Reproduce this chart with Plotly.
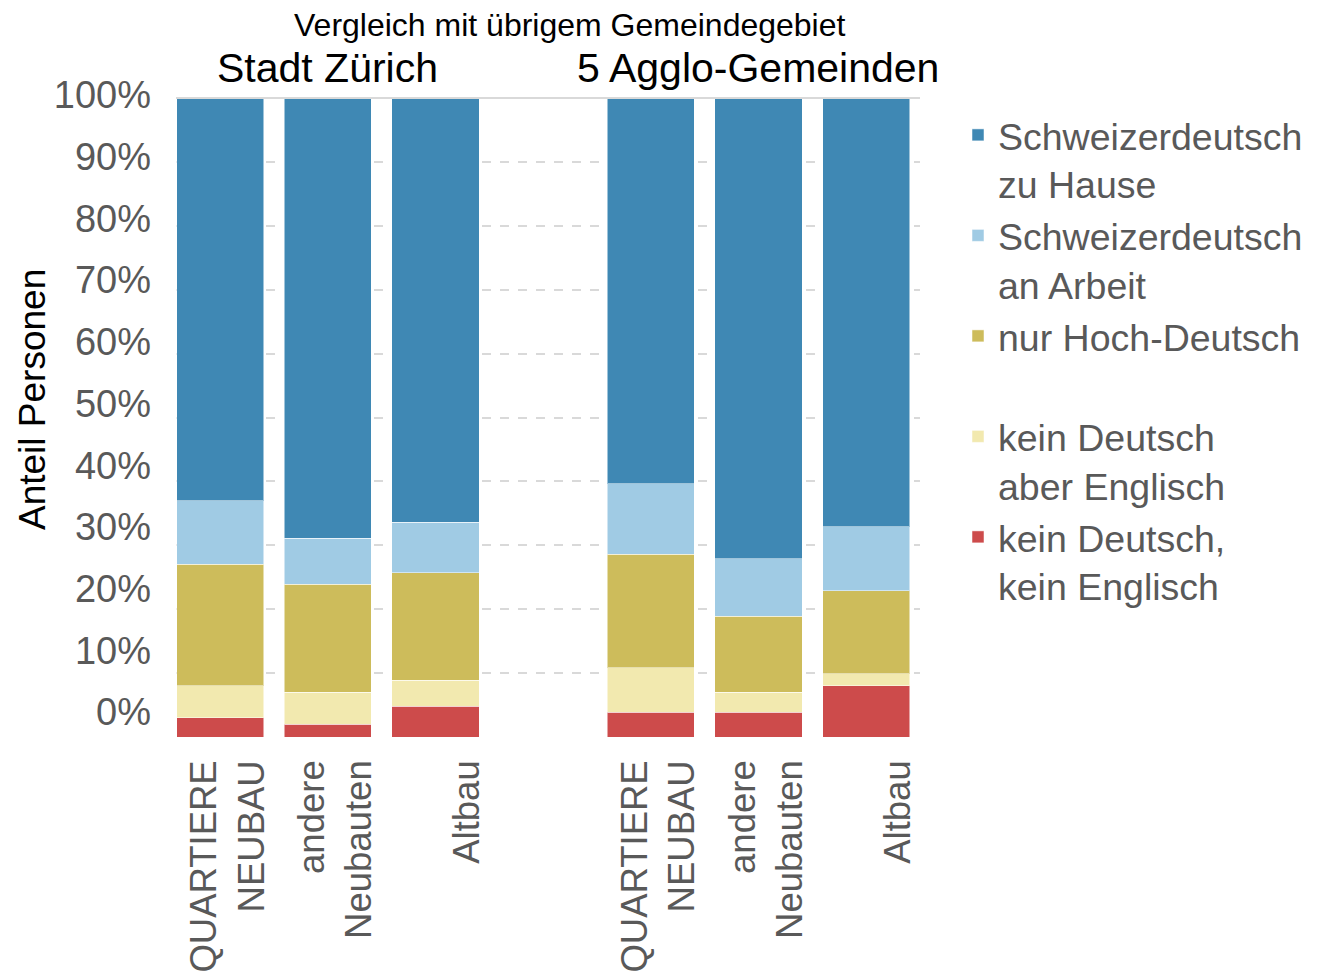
import plotly.graph_objects as go

# Sprachkenntnisse nach Gebaeudetyp (Anteil Personen in %)
groups = ["Stadt Zürich", "5 Agglo-Gemeinden"]
building_types = ["QUARTIERE<br>NEUBAU", "andere<br>Neubauten", "&nbsp;<br>Altbau"]

series_names = [
    "kein Deutsch,<br>kein Englisch",
    "kein Deutsch<br>aber Englisch",
    "nur Hoch-Deutsch<br>&nbsp;",
    "Schweizerdeutsch<br>an Arbeit",
    "Schweizerdeutsch<br>zu Hause",
]
kein_deutsch_kein_englisch = [3.0, 2.0, 4.8, 3.9, 3.9, 8.0]
kein_deutsch_aber_englisch = [5.0, 5.0, 4.1, 6.9, 3.1, 1.9]
nur_hochdeutsch = [19.0, 16.9, 16.8, 17.8, 11.9, 13.0]
schweizerdeutsch_arbeit = [10.0, 7.2, 7.9, 11.0, 9.0, 10.0]
schweizerdeutsch_hause = [63.0, 68.9, 66.4, 60.4, 72.1, 67.1]

colors = ["#CD4B4B", "#F2E9AF", "#CDBC5B", "#A0CBE4", "#3F88B4"]
y_ticks = list(range(0, 101, 10))

# positions: one empty slot between the two groups
positions = []
labels = []
for g, _ in enumerate(groups):
    for i, b in enumerate(building_types):
        positions.append(g * (len(building_types) + 1) + i)
        labels.append(b)

font = "Liberation Sans, Arial, sans-serif"
grey = "#595959"

fig = go.Figure()
values = [
    kein_deutsch_kein_englisch,
    kein_deutsch_aber_englisch,
    nur_hochdeutsch,
    schweizerdeutsch_arbeit,
    schweizerdeutsch_hause,
]
for name, vals, col in zip(series_names, values, colors):
    fig.add_trace(
        go.Bar(
            name=name,
            x=positions,
            y=vals,
            width=0.81,
            marker={"color": col, "line": {"color": "rgba(255,255,255,0.5)", "width": 1}},
        )
    )

# empty trace so the label axis (yaxis2) gets drawn
fig.add_trace(go.Scatter(x=[None], y=[None], yaxis="y2", showlegend=False, hoverinfo="skip"))

# page body adds an 8px offset; pixel values below are screen pixels
OFF = 8
W, H = 1332 - OFF, 976 - OFF
left_px, right_px = 176 - OFF, 920 - OFF
top_px, bottom_px = 60 - OFF, 737 - OFF
plot_w, plot_h, span_px = right_px - left_px, bottom_px - top_px, 639


def py(px):
    return (bottom_px - (px - OFF)) / plot_h


def pxx(px):
    return (px - OFF - left_px) / plot_w


fig.update_layout(
    barmode="stack",
    width=W,
    height=H,
    paper_bgcolor="white",
    plot_bgcolor="white",
    margin={"l": left_px, "r": W - right_px, "t": top_px, "b": H - bottom_px, "autoexpand": False},
    font={"family": font, "color": grey},
    showlegend=True,
    legend={
        "x": pxx(958),
        "xanchor": "left",
        "y": py(104),
        "yanchor": "top",
        "traceorder": "reversed",
        "valign": "top",
        "font": {"size": 37.5, "color": grey, "family": font},
    },
    xaxis={
        "range": [-0.41, 6.5],
        "tickvals": positions,
        "ticktext": labels,
        "tickangle": -90,
        "tickfont": {"size": 36.5, "color": grey},
        "ticklabelstandoff": 15,
        "ticklabelshift": 8,
        "showgrid": False,
        "zeroline": False,
        "showline": False,
        "ticks": "",
    },
    yaxis={
        "range": [0, 100 * plot_h / span_px],
        "tickvals": y_ticks,
        "showticklabels": False,
        "showgrid": True,
        "gridcolor": "#D9D9D9",
        "griddash": "dash",
        "gridwidth": 1.5,
        "zeroline": False,
        "showline": False,
        "ticks": "",
    },
    yaxis2={
        "overlaying": "y",
        "side": "left",
        "range": [-4.05, 105.67],
        "tickvals": y_ticks,
        "ticktext": [f"{v}%" for v in y_ticks],
        "tickfont": {"size": 38, "color": grey},
        "ticklabelstandoff": 24,
        "showgrid": False,
        "zeroline": False,
        "showline": False,
        "ticks": "",
    },
)

# solid top line at 100%
fig.add_shape(
    type="line", xref="paper", yref="y", x0=0, x1=1, y0=100, y1=100,
    line={"color": "#D9D9D9", "width": 2},
)

fig.add_annotation(
    text="Vergleich mit übrigem Gemeindegebiet", xref="paper", yref="paper",
    x=pxx(570), y=py(25), xanchor="center", yanchor="middle",
    showarrow=False, font={"size": 32, "color": "black"},
)
fig.add_annotation(
    text="Anteil Personen", xref="paper", yref="paper", textangle=-90,
    x=pxx(32), y=py(400), xanchor="center", yanchor="middle",
    showarrow=False, font={"size": 37, "color": "black"},
)
for g, name in enumerate(groups):
    fig.add_annotation(
        text=name, xref="x", yref="paper",
        x=positions[g * len(building_types) + 1], y=py(68),
        xanchor="center", yanchor="middle", showarrow=False,
        font={"size": 41, "color": "black"},
    )

fig.write_html("out.html")
